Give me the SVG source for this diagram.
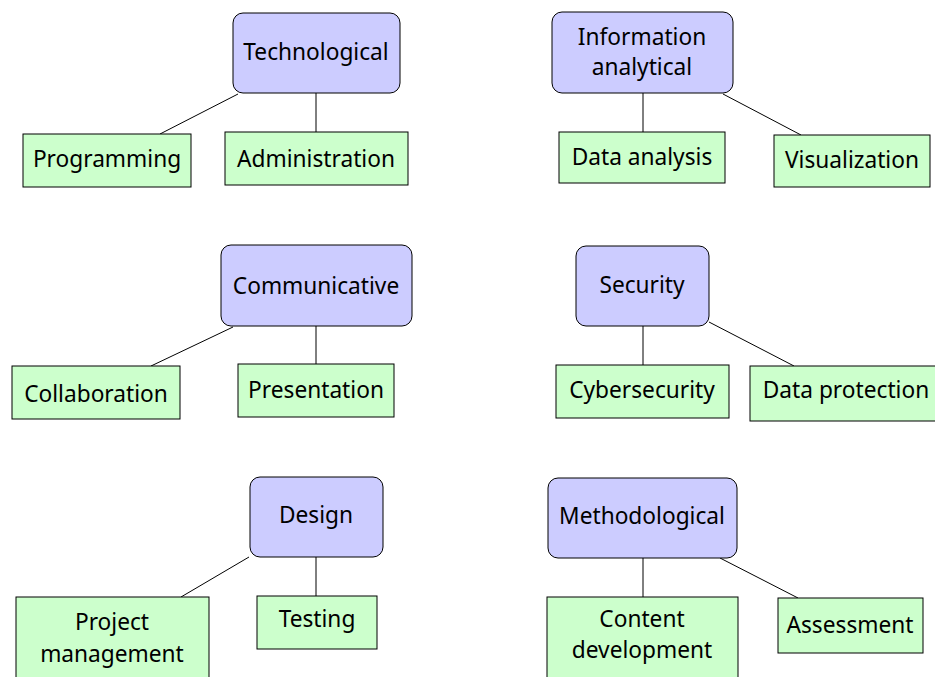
<svg xmlns="http://www.w3.org/2000/svg" width="935" height="677" viewBox="0 0 935 677">
<style>
.cat{fill:#ccccff;stroke:#000;stroke-width:1}
.leaf{fill:#ccffcc;stroke:#000;stroke-width:1}
text{font-family:"Noto Sans","DejaVu Sans",sans-serif;font-size:22.7px;fill:#000;text-anchor:middle}
.conn line{stroke:#000;stroke-width:1}
</style>
<rect width="935" height="677" fill="#fff"/>
<g class="conn">
<line x1="238" y1="94" x2="160" y2="134"/>
<line x1="316" y1="93" x2="316" y2="132"/>
<line x1="643" y1="93" x2="643" y2="132"/>
<line x1="723" y1="94" x2="801" y2="135"/>
<line x1="233" y1="327" x2="151" y2="366"/>
<line x1="316" y1="326" x2="316" y2="364"/>
<line x1="643" y1="326" x2="643" y2="365"/>
<line x1="709" y1="322" x2="794" y2="366"/>
<line x1="249" y1="557" x2="181" y2="597"/>
<line x1="316" y1="557" x2="316" y2="596"/>
<line x1="643" y1="558" x2="643" y2="597"/>
<line x1="720" y1="558" x2="798" y2="598"/>
</g>
<g id="technological"><rect class="cat" x="233" y="13" width="167" height="80" rx="10"/><text x="316" y="60">Technological</text></g>
<g id="programming"><rect class="leaf" x="23" y="134" width="168" height="53"/><text x="107" y="167">Programming</text></g>
<g id="administration"><rect class="leaf" x="225" y="132" width="183" height="53"/><text x="316" y="167">Administration</text></g>
<g id="information"><rect class="cat" x="552" y="12" width="181" height="81" rx="10"/><text x="642" y="45">Information</text><text x="642" y="75">analytical</text></g>
<g id="data-analysis"><rect class="leaf" x="559" y="132" width="166" height="51"/><text x="642" y="165">Data analysis</text></g>
<g id="visualization"><rect class="leaf" x="774" y="135" width="156" height="52"/><text x="852" y="168">Visualization</text></g>
<g id="communicative"><rect class="cat" x="221" y="245" width="191" height="81" rx="10"/><text x="316" y="294">Communicative</text></g>
<g id="collaboration"><rect class="leaf" x="12" y="366" width="168" height="53"/><text x="96" y="402">Collaboration</text></g>
<g id="presentation"><rect class="leaf" x="238" y="364" width="156" height="53"/><text x="316" y="398">Presentation</text></g>
<g id="security"><rect class="cat" x="576" y="246" width="133" height="80" rx="10"/><text x="642" y="293">Security</text></g>
<g id="cybersecurity"><rect class="leaf" x="556" y="365" width="173" height="53"/><text x="642" y="398">Cybersecurity</text></g>
<g id="data-protection"><rect class="leaf" x="750" y="366" width="192" height="55"/><text x="846" y="398">Data protection</text></g>
<g id="design"><rect class="cat" x="250" y="477" width="133" height="80" rx="10"/><text x="316" y="523">Design</text></g>
<g id="project-management"><rect class="leaf" x="16" y="597" width="193" height="90"/><text x="112" y="630">Project</text><text x="112" y="662">management</text></g>
<g id="testing"><rect class="leaf" x="257" y="596" width="120" height="53"/><text x="317" y="627">Testing</text></g>
<g id="methodological"><rect class="cat" x="548" y="478" width="189" height="80" rx="10"/><text x="642" y="524">Methodological</text></g>
<g id="content-development"><rect class="leaf" x="547" y="597" width="191" height="90"/><text x="642" y="627">Content</text><text x="642" y="658">development</text></g>
<g id="assessment"><rect class="leaf" x="778" y="598" width="145" height="55"/><text x="850" y="633">Assessment</text></g>
</svg>
